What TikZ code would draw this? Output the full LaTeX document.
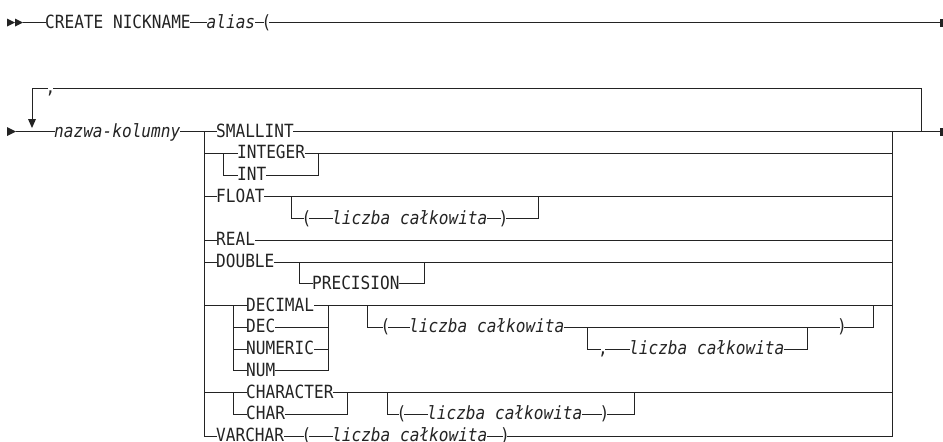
\documentclass[tikz,border=0pt]{standalone}
\usepackage{graphicx}
\usepackage{fontspec}
\newfontfamily\railfont[ItalicFont={DejaVu Sans Mono Oblique}]{DejaVu Sans Mono}
\definecolor{ink}{RGB}{35,35,35}
% condensed rail text
\newcommand\rt[1]{\scalebox{0.885}[1]{#1}}
\begin{document}
\begin{tikzpicture}[x=1pt,y=-1pt,
  rail/.style={draw=ink,line width=1pt,line cap=rect},
  kw/.style={anchor=west,inner xsep=0pt,inner ysep=0pt,text height=11.3pt,text depth=0pt,
    text=ink,font=\railfont\fontsize{18.2pt}{20pt}\selectfont},
  var/.style={kw,font=\railfont\itshape\fontsize{18.2pt}{20pt}\selectfont},
  sym/.style={kw,anchor=center,inner xsep=-2.5pt},
]
\useasboundingbox (0,0) rectangle (943,442);

% ---------- first line ----------
\fill[ink] (7,18.5) -- (15,22.5) -- (7,26.5) -- cycle;
\fill[ink] (15,18.5) -- (23,22.5) -- (15,26.5) -- cycle;
\coordinate (in0) at (23,22.5);
\coordinate (out0) at (940,22.5);
\node[kw]  (create) at (45,22.5) {\rt{CREATE NICKNAME}};
\node[var] (alias)  at (206.5,22.5) {\rt{alias}};
\node[sym] (lp0)    at (266.5,22.5) {\rt{(}};
\draw[rail] (in0) -- (create.west) (create.east) -- (alias.west)
            (alias.east) -- (lp0.west) (lp0.east) -- (out0);
\fill[ink] (940,18.5) rectangle (943,26.5);

% ---------- column definition with repeat loop ----------
\fill[ink] (7,127) -- (16,131.5) -- (7,136) -- cycle;
\coordinate (in1)  at (16,131.5);
\coordinate (bL)   at (204,131.5);
\coordinate (bR)   at (892,131.5);
\coordinate (out1) at (940,131.5);
\coordinate (lpL)  at (32,88.3);
\coordinate (lpLd) at (32,119);
\coordinate (lpR)  at (921,88.3);
\coordinate (lpRd) at (921,131.5);
\node[sym] (comma) at (50.5,88.3) {\rt{,}};
\draw[rail] (lpRd) -- (lpR) -- (comma.east) (comma.west) -- (lpL) -- (lpLd);
\fill[ink] (28,119) -- (36,119) -- (32,128) -- cycle;

\node[var] (col) at (54,131.5) {\rt{nazwa-kolumny}};
\draw[rail] (in1) -- (col.west) (col.east) -- (bL);

% vertical rail positions
\coordinate (xB)  at (204,0);
\coordinate (xR)  at (892,0);
\coordinate (xI1) at (223,0);
\coordinate (xI2) at (318,0);
\coordinate (xF1) at (291,0);
\coordinate (xF2) at (538,0);
\coordinate (xD1) at (299,0);
\coordinate (xD2) at (424,0);
\coordinate (xE1) at (233,0);
\coordinate (xE2) at (328,0);
\coordinate (xP1) at (367,0);
\coordinate (xP2) at (873,0);
\coordinate (xN1) at (587,0);
\coordinate (xN2) at (807,0);
\coordinate (xC1) at (233,0);
\coordinate (xC2) at (347,0);
\coordinate (xQ1) at (387,0);
\coordinate (xQ2) at (634,0);

% ---------- data types ----------
\node[kw] (smallint)  at (216,131.5)  {\rt{SMALLINT}};
\node[kw] (integer)   at (237,153.25) {\rt{INTEGER}};
\node[kw] (int)       at (237,175)    {\rt{INT}};
\node[kw] (float)     at (216,196.75) {\rt{FLOAT}};
\node[sym] (flp)      at (306.5,218.5) {\rt{(}};
\node[var] (fnum)     at (332,218.5)  {\rt{liczba całkowita}};
\node[sym] (frp)      at (503.5,218.5) {\rt{)}};
\node[kw] (real)      at (216,240.25) {\rt{REAL}};
\node[kw] (double)    at (216,262)    {\rt{DOUBLE}};
\node[kw] (precision) at (312,283.75) {\rt{PRECISION}};
\node[kw] (decimal)   at (246,305.5)  {\rt{DECIMAL}};
\node[kw] (dec)       at (246,327.25) {\rt{DEC}};
\node[kw] (numeric)   at (246,349)    {\rt{NUMERIC}};
\node[kw] (num)       at (246,370.75) {\rt{NUM}};
\node[sym] (dlp)      at (385.5,327.25) {\rt{(}};
\node[var] (dnum)     at (409,327.25) {\rt{liczba całkowita}};
\node[sym] (drp)      at (842,327.25) {\rt{)}};
\node[sym] (dcm)      at (603,349)    {\rt{,}};
\node[var] (dnum2)    at (629,349)    {\rt{liczba całkowita}};
\node[kw] (character) at (246,392.5)  {\rt{CHARACTER}};
\node[kw] (char)      at (246,414.25) {\rt{CHAR}};
\node[sym] (clp)      at (401.5,414.25) {\rt{(}};
\node[var] (cnum)     at (427,414.25) {\rt{liczba całkowita}};
\node[sym] (crp)      at (604.5,414.25) {\rt{)}};
\node[kw] (varchar)   at (216,436)    {\rt{VARCHAR}};
\node[sym] (vlp)      at (306.5,436)  {\rt{(}};
\node[var] (vnum)     at (332,436)    {\rt{liczba całkowita}};
\node[sym] (vrp)      at (505,436)    {\rt{)}};

% main choice rails
\draw[rail] (bL) -- (xB |- varchar.west) -- (varchar.west);
\draw[rail] (bL) -- (smallint.west) (smallint.east) -- (bR) -- (out1);
\draw[rail] (bR) -- (xR |- varchar.west);
\fill[ink] (940,127.5) rectangle (943,135.5);

% INTEGER | INT
\draw[rail] (xB |- integer.west) -- (integer.west)
            (integer.east) -- (xR |- integer.west);
\draw[rail] (xI1 |- integer.west) |- (int.west);
\draw[rail] (int.east) -| (xI2 |- integer.west);

% FLOAT [(n)]
\draw[rail] (xB |- float.west) -- (float.west) (float.east) -- (xR |- float.west);
\draw[rail] (xF1 |- float.west) |- (flp.west) (flp.east) -- (fnum.west)
            (fnum.east) -- (frp.west) (frp.east) -| (xF2 |- float.west);

% REAL
\draw[rail] (xB |- real.west) -- (real.west) (real.east) -- (xR |- real.west);

% DOUBLE [PRECISION]
\draw[rail] (xB |- double.west) -- (double.west) (double.east) -- (xR |- double.west);
\draw[rail] (xD1 |- double.west) |- (precision.west) (precision.east) -| (xD2 |- double.west);

% DECIMAL | DEC | NUMERIC | NUM  [(p[,s])]
\draw[rail] (xB |- decimal.west) -- (decimal.west) (decimal.east) -- (xR |- decimal.west);
\draw[rail] (xE1 |- decimal.west) |- (num.west);
\draw[rail] (xE1 |- dec.west) -- (dec.west) (xE1 |- numeric.west) -- (numeric.west);
\draw[rail] (num.east) -| (xE2 |- decimal.west);
\draw[rail] (dec.east) -- (xE2 |- dec.west) (numeric.east) -- (xE2 |- numeric.west);
\draw[rail] (xP1 |- decimal.west) |- (dlp.west) (dlp.east) -- (dnum.west)
            (dnum.east) -- (drp.west) (drp.east) -| (xP2 |- decimal.west);
\draw[rail] (xN1 |- dnum.west) |- (dcm.west) (dcm.east) -- (dnum2.west)
            (dnum2.east) -| (xN2 |- dnum.west);

% CHARACTER | CHAR  [(n)]
\draw[rail] (xB |- character.west) -- (character.west)
            (character.east) -- (xR |- character.west);
\draw[rail] (xC1 |- character.west) |- (char.west);
\draw[rail] (char.east) -| (xC2 |- character.west);
\draw[rail] (xQ1 |- character.west) |- (clp.west) (clp.east) -- (cnum.west)
            (cnum.east) -- (crp.west) (crp.east) -| (xQ2 |- character.west);

% VARCHAR (n)
\draw[rail] (varchar.east) -- (vlp.west) (vlp.east) -- (vnum.west)
            (vnum.east) -- (vrp.west) (vrp.east) -- (xR |- varchar.west);
\end{tikzpicture}
\end{document}
